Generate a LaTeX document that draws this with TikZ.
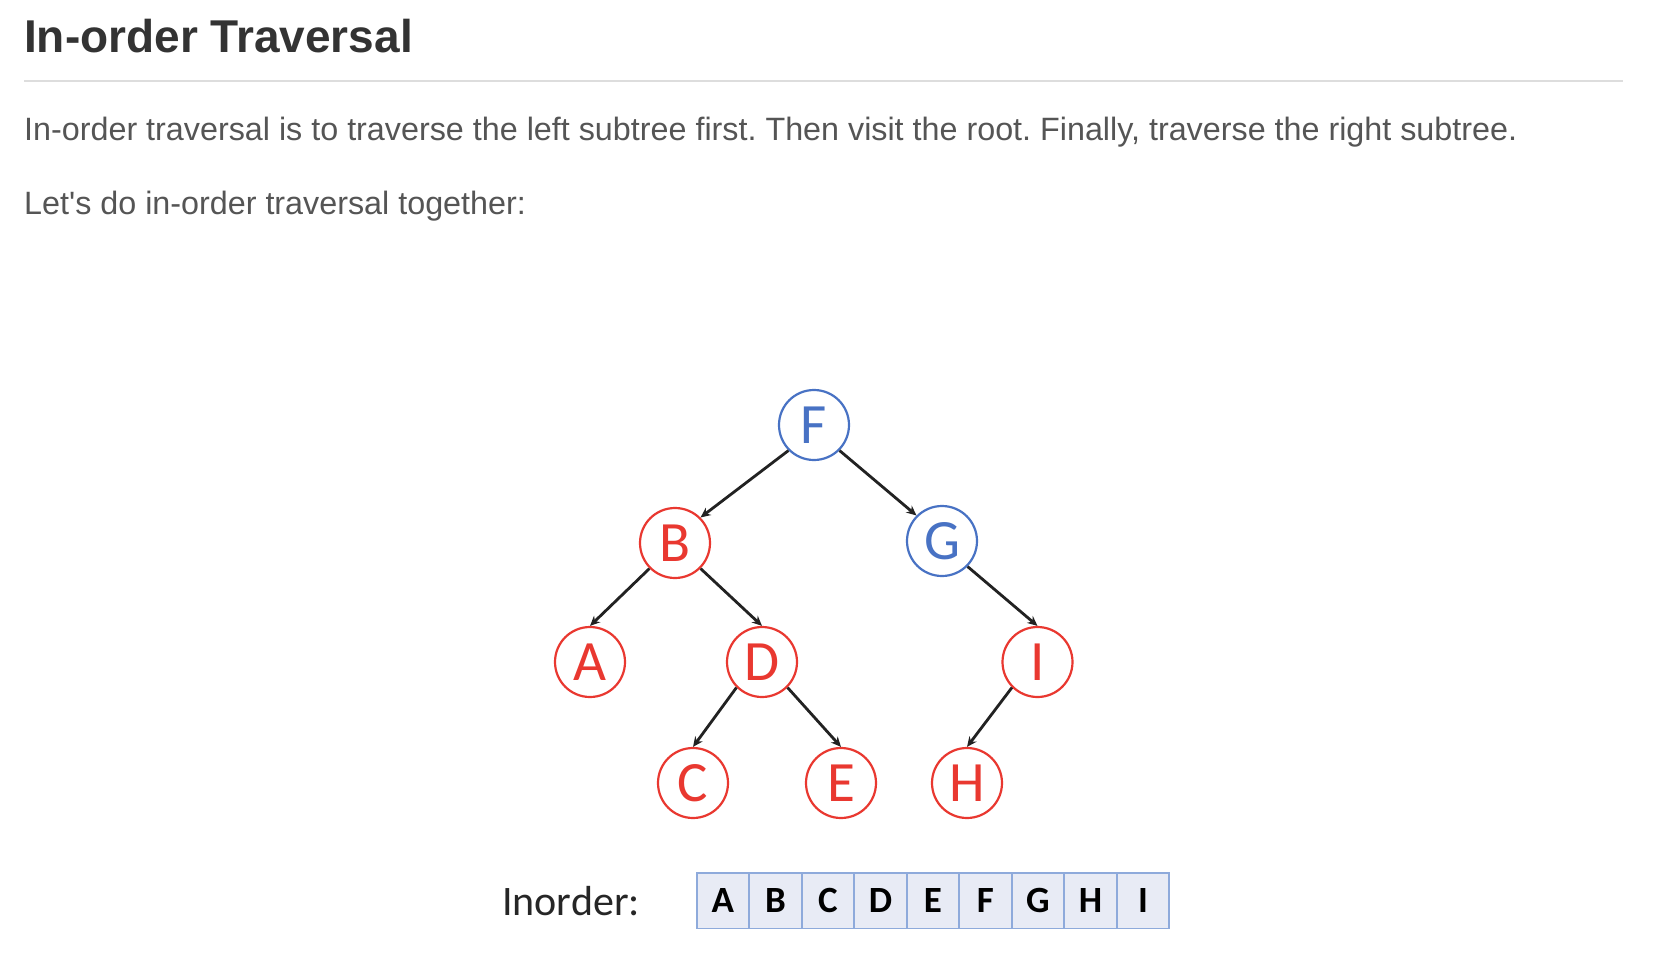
\documentclass[tikz,border=0pt]{standalone}
\usepackage{fontspec}
\setmainfont{Liberation Sans}
\newfontfamily\calfont{Carlito}
\usetikzlibrary{arrows.meta}
\definecolor{titlegray}{HTML}{333333}
\definecolor{textgray}{HTML}{555555}
\definecolor{rulegray}{HTML}{DDDDDD}
\definecolor{nodered}{RGB}{233,56,48}
\definecolor{nodeblue}{RGB}{72,114,196}
\definecolor{edgecol}{HTML}{222222}
\definecolor{cellfill}{HTML}{E8EBF5}
\definecolor{cellborder}{HTML}{8EAADB}
\tikzset{
  treenode/.style={circle, draw, line width=2.2pt, minimum size=70pt, inner sep=0pt,
    font=\calfont\fontsize{57}{57}\selectfont},
  rednode/.style={treenode, draw=nodered, text=nodered, fill=white},
  bluenode/.style={treenode, draw=nodeblue, text=nodeblue, fill=white},
  edge/.style={draw=edgecol, line width=2.8pt, -{Stealth[length=10pt,width=9pt]}},
  cell/.style={draw=cellborder, fill=cellfill, line width=1.6pt, minimum width=52.5pt,
    minimum height=55.6pt, inner sep=0pt, font=\calfont\bfseries\fontsize{37}{37}\selectfont, text=black},
  txt/.style={inner sep=0pt, anchor=base west}
}
\begin{document}
\frenchspacing
\begin{tikzpicture}[x=1pt,y=-1pt]
\useasboundingbox[fill=white] (0,0) rectangle (1658,974);
% header
\node[txt, text=titlegray, font=\bfseries\fontsize{46}{46}\selectfont] (title) at (24,52.7) {In-order Traversal};
\draw[rulegray, line width=2pt] (24,81) -- (1623,81);
\node[txt, text=textgray, font=\fontsize{32.3}{32}\selectfont] (p1) at (24,140.5)
  {In-order traversal is to traverse the left subtree first. Then visit the root. Finally, traverse the right subtree.};
\node[txt, text=textgray, font=\fontsize{32.3}{32}\selectfont] (p2) at (24,214.5)
  {Let\textquotesingle s do in-order traversal together:};
% tree
\node[bluenode] (F) at (814,425) {F};
\node[rednode]  (B) at (675,543) {B};
\node[bluenode] (G) at (942,541) {G};
\node[rednode]  (A) at (590,662) {A};
\node[rednode]  (D) at (762,662) {D};
\node[rednode]  (I) at (1037.5,662) {I};
\node[rednode]  (C) at (693,783) {C};
\node[rednode]  (E) at (841,783) {E};
\node[rednode]  (H) at (967,783) {H};
\draw[edge] (F.south west) -- (B.north east);
\draw[edge] (F.south east) -- (G.north west);
\draw[edge] (B.south west) -- (A.north);
\draw[edge] (B.south east) -- (D.north);
\draw[edge] (D.south west) -- (C.north);
\draw[edge] (D.south east) -- (E.north);
\draw[edge] (G.south east) -- (I.north);
\draw[edge] (I.south west) -- (H.north);
% inorder row
\node[txt, text=black!85, font=\calfont\fontsize{42}{42}\selectfont] (lbl) at (502,915) {Inorder:};
\foreach \l [count=\i from 0] in {A,B,C,D,E,F,G,H,I} {
  \node[cell] (cell\i) at ({696.7+52.5*(\i+0.5)},900.5) {\l};
}
\end{tikzpicture}
\end{document}
